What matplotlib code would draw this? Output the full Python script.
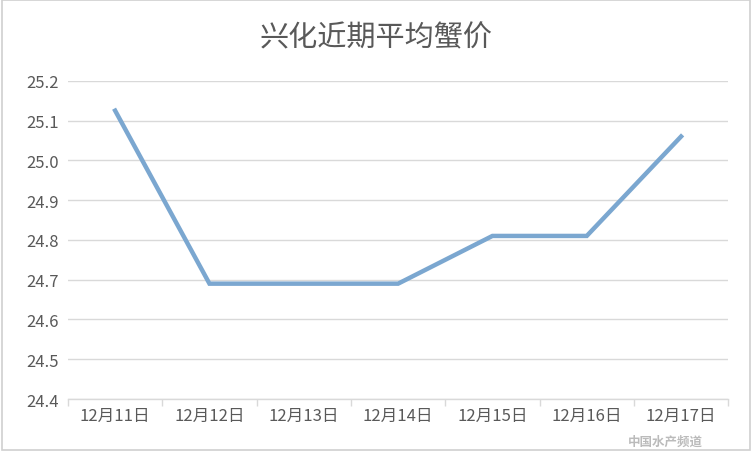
import matplotlib
matplotlib.use("Agg")
import matplotlib.pyplot as plt
from matplotlib.patches import Rectangle

plt.rcParams['font.family'] = ['Noto Sans CJK SC', 'DejaVu Sans']

categories = ["12月11日", "12月12日", "12月13日", "12月14日", "12月15日", "12月16日", "12月17日"]
prices = [25.125, 24.69, 24.69, 24.69, 24.81, 24.81, 25.06]
y_ticks = [24.4, 24.5, 24.6, 24.7, 24.8, 24.9, 25.0, 25.1, 25.2]
title = "兴化近期平均蟹价"
watermark = "中国水产频道"

fig = plt.figure(figsize=(7.52, 4.52), dpi=100)
ax = fig.add_axes([0.0904, 0.115, 0.878, 0.704])

x = list(range(len(categories)))
ax.plot(x, prices, color="#7BA7D0", linewidth=3.2, solid_joinstyle="miter", zorder=3)

ax.set_xlim(-0.5, len(categories) - 0.5)
ax.set_ylim(24.4, 25.2)
ax.set_yticks(y_ticks)
ax.set_yticklabels([f"{v:.1f}" for v in y_ticks])
ax.set_xticks(x)
ax.set_xticklabels(categories)
ax.set_xticks([i - 0.5 for i in range(len(categories) + 1)], minor=True)

ax.grid(axis="y", color="#D9D9D9", linewidth=1.0, zorder=0)
for s in ["top", "right", "left"]:
    ax.spines[s].set_visible(False)
ax.spines["bottom"].set_color("#D9D9D9")
ax.spines["bottom"].set_linewidth(1.0)

ax.tick_params(axis="y", length=0, labelsize=12, labelcolor="#595959", pad=30)
ax.tick_params(axis="x", which="major", length=0, labelsize=12, labelcolor="#595959", pad=6)
ax.tick_params(axis="x", which="minor", length=5, color="#D9D9D9", width=1.0)
for lbl in ax.get_yticklabels():
    lbl.set_horizontalalignment("left")
    lbl.set_fontweight("light")
for lbl in ax.get_xticklabels():
    lbl.set_fontweight("light")

fig.text(0.5, 0.915, title, ha="center", va="center", fontsize=21, color="#595959",
         fontweight="light")

fig.text(0.885, 0.022, watermark, ha="center", va="center", fontsize=9,
         color="#B0B0B0", fontweight="bold", alpha=0.85)

fig.patches.append(Rectangle((0.002, 0.002), 0.996, 0.996, transform=fig.transFigure,
                             fill=False, edgecolor="#D0D0D0", linewidth=1.2))

fig.savefig("out.png", dpi=100, facecolor="white")
